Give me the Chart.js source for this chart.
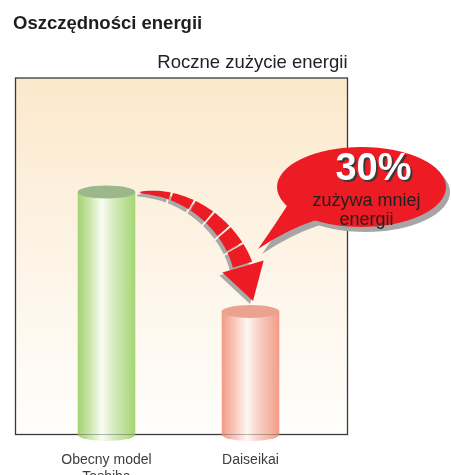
<!DOCTYPE html>
<html lang="pl">
<head>
<meta charset="UTF-8">
<title>Oszczędności energii</title>
<script src="https://cdn.jsdelivr.net/npm/chart.js@4.4.4/dist/chart.umd.min.js"></script>
<style>
  html, body { margin: 0; padding: 0; background: #fff; }
  #wrap { position: relative; width: 451px; height: 475px; }
</style>
</head>
<body>
<div id="wrap"><canvas id="chart"></canvas></div>
<script>
// Data. The value axis is hidden, so the
// heights are in plain units on a 0..100 scale spanning the framed area.
const CATEGORIES = [['Obecny model', 'Toshiba'], 'Daiseikai'];
const CONSUMPTION = [68, 34.5];
const Y_RANGE = [0, 100];

const TITLE = 'Oszczędności energii';
const SUBTITLE = 'Roczne zużycie energii';
const CALLOUT = ['30%', 'zużywa mniej', 'energii'];

const FONT = '"Liberation Sans", Arial, Helvetica, sans-serif';
const BAR_PCT = 0.4;
const CAP_RY = 6.5;

// Cylinder shading, left to right, and flat colour of the top cap.
const BAR_STYLES = [
  { stops: [[0, '#a4d272'], [0.2, '#c8e5a8'], [0.42, '#f9fcf3'], [0.62, '#d6ecc0'], [1, '#a5d574']], top: '#9cb88b' },
  { stops: [[0, '#f29b86'], [0.2, '#f8c2b4'], [0.44, '#fff7f3'], [0.64, '#f9d0c5'], [1, '#f29c87']], top: '#eca291' },
];

function barGradient(chart, index) {
  const xs = chart.scales.x;
  if (!xs || !chart.chartArea) return BAR_STYLES[index].stops[0][1];
  const cx = xs.getPixelForValue(index);
  const half = xs.width / CATEGORIES.length * BAR_PCT / 2;
  if (!isFinite(cx) || !isFinite(half) || half <= 0) return BAR_STYLES[index].stops[0][1];
  const g = chart.ctx.createLinearGradient(cx - half, 0, cx + half, 0);
  BAR_STYLES[index].stops.forEach(([o, c]) => g.addColorStop(o, c));
  return g;
}

// Frame + warm background behind the bars; it runs a bit wider than the
// category area on both sides, like the original artwork.
const frameBackground = {
  id: 'frameBackground',
  beforeDatasetsDraw(chart) {
    const { ctx, chartArea: a } = chart;
    const left = a.left - 19, right = a.right + 25;
    ctx.save();
    const g = ctx.createLinearGradient(0, a.top, 0, a.bottom);
    g.addColorStop(0, '#fce8cb');
    g.addColorStop(0.45, '#fdf3e4');
    g.addColorStop(1, '#fffefc');
    ctx.fillStyle = g;
    ctx.fillRect(left, a.top, right - left, a.bottom - a.top);
    ctx.strokeStyle = '#3a3a3a';
    ctx.lineWidth = 1.3;
    ctx.strokeRect(left, a.top, right - left, a.bottom - a.top);
    ctx.restore();
  },
};

function bezier(p, t) {
  const u = 1 - t;
  return {
    x: u * u * u * p[0].x + 3 * u * u * t * p[1].x + 3 * u * t * t * p[2].x + t * t * t * p[3].x,
    y: u * u * u * p[0].y + 3 * u * u * t * p[1].y + 3 * u * t * t * p[2].y + t * t * t * p[3].y,
  };
}

function bezierTangent(p, t) {
  const u = 1 - t;
  const dx = 3 * u * u * (p[1].x - p[0].x) + 6 * u * t * (p[2].x - p[1].x) + 3 * t * t * (p[3].x - p[2].x);
  const dy = 3 * u * u * (p[1].y - p[0].y) + 6 * u * t * (p[2].y - p[1].y) + 3 * t * t * (p[3].y - p[2].y);
  const len = Math.hypot(dx, dy) || 1;
  return { x: dx / len, y: dy / len };
}

function arrowShapes(p) {
  const dashes = [[0, 0.205], [0.22, 0.37], [0.385, 0.525], [0.54, 0.675], [0.69, 0.825], [0.84, 0.985]];
  const width = (t) => 1.5 + 19 * Math.pow(t, 0.75);
  const shapes = dashes.map(([t0, t1]) => {
    const left = [], right = [];
    for (let i = 0; i <= 12; i++) {
      const t = t0 + (t1 - t0) * i / 12;
      const pt = bezier(p, t), tg = bezierTangent(p, t), w = width(t) / 2;
      left.push({ x: pt.x + tg.y * w, y: pt.y - tg.x * w });
      right.push({ x: pt.x - tg.y * w, y: pt.y + tg.x * w });
    }
    return left.concat(right.reverse());
  });
  const base = bezier(p, 1), dir = bezierTangent(p, 1);
  shapes.push([
    { x: base.x + dir.y * 21.5, y: base.y - dir.x * 21.5 },
    { x: base.x + dir.x * 36, y: base.y + dir.y * 36 },
    { x: base.x - dir.y * 21.5, y: base.y + dir.x * 21.5 },
  ]);
  return shapes;
}

function fillPoly(ctx, pts, dx, dy) {
  ctx.beginPath();
  pts.forEach((q, i) => (i ? ctx.lineTo(q.x + dx, q.y + dy) : ctx.moveTo(q.x + dx, q.y + dy)));
  ctx.closePath();
  ctx.fill();
}

function fillBubble(ctx, dx, dy) {
  ctx.beginPath();
  ctx.ellipse(361.5 + dx, 187 + dy, 84.5, 40, 0, 0, Math.PI * 2);
  ctx.fill();
  ctx.beginPath();
  ctx.moveTo(292 + dx, 198 + dy);
  ctx.quadraticCurveTo(277 + dx, 222 + dy, 258 + dx, 249 + dy);
  ctx.quadraticCurveTo(286 + dx, 230 + dy, 316 + dx, 220 + dy);
  ctx.closePath();
  ctx.fill();
}

const cylinders = {
  id: 'cylinders',
  afterDatasetsDraw(chart) {
    const { ctx } = chart;
    const bars = chart.getDatasetMeta(0).data;
    ctx.save();
    bars.forEach((bar, i) => {
      const { x, y, base, width } = bar.getProps(['x', 'y', 'base', 'width'], true);
      ctx.fillStyle = barGradient(chart, i);
      ctx.beginPath();
      ctx.ellipse(x, base, width / 2, CAP_RY, 0, 0, Math.PI);
      ctx.fill();
      ctx.fillStyle = BAR_STYLES[i].top;
      ctx.beginPath();
      ctx.ellipse(x, y, width / 2, CAP_RY, 0, 0, Math.PI * 2);
      ctx.fill();
    });

    // dashed curved arrow from the first cylinder down to the second
    const a = bars[0].getProps(['x', 'y', 'width'], true);
    const b = bars[1].getProps(['x', 'y'], true);
    const p0 = { x: a.x + a.width / 2 + 5, y: a.y + 0.5 };
    const p3 = { x: b.x - 7.5, y: b.y - 45 };
    const pts = [p0, { x: p0.x + 50, y: p0.y - 2 }, { x: p3.x - 11, y: p3.y - 38 }, p3];
    const shapes = arrowShapes(pts);
    ctx.fillStyle = '#a9a9a9';
    shapes.forEach((s) => fillPoly(ctx, s, -3, 3));
    ctx.fillStyle = '#ed1c24';
    shapes.forEach((s) => fillPoly(ctx, s, 0, 0));

    // speech bubble
    ctx.fillStyle = '#a6a6a6';
    fillBubble(ctx, 4, 5);
    ctx.fillStyle = '#ed1c24';
    fillBubble(ctx, 0, 0);

    ctx.textAlign = 'center';
    ctx.textBaseline = 'middle';
    ctx.font = `bold 38px ${FONT}`;
    ctx.fillStyle = '#3a3a3a';
    ctx.fillText(CALLOUT[0], 375.5, 172);
    ctx.fillStyle = '#ffffff';
    ctx.fillText(CALLOUT[0], 373.5, 170);
    ctx.font = `18px ${FONT}`;
    ctx.fillStyle = '#231f20';
    ctx.fillText(CALLOUT[1], 366.5, 201);
    ctx.fillText(CALLOUT[2], 366.5, 220);
    ctx.restore();
  },
  afterDraw(chart) {
    const { ctx } = chart;
    ctx.save();
    ctx.textBaseline = 'alphabetic';
    ctx.fillStyle = '#1e1e1e';
    ctx.font = `bold 18.5px ${FONT}`;
    ctx.textAlign = 'left';
    ctx.fillText(TITLE, 13, 29);
    ctx.fillStyle = '#222222';
    ctx.font = `18.5px ${FONT}`;
    ctx.textAlign = 'right';
    ctx.fillText(SUBTITLE, 347.5, 68);
    ctx.restore();
  },
};

new Chart(document.getElementById('chart'), {
  type: 'bar',
  data: {
    labels: CATEGORIES,
    datasets: [{
      data: CONSUMPTION,
      backgroundColor: (c) => barGradient(c.chart, c.dataIndex),
      borderWidth: 0,
      barPercentage: BAR_PCT,
      categoryPercentage: 1,
    }],
  },
  options: {
    responsive: true,
    maintainAspectRatio: false,
    animation: false,
    devicePixelRatio: 1,
    layout: { padding: { left: 34.5, right: 128.5, top: 78, bottom: 0 } },
    plugins: { legend: { display: false }, tooltip: { enabled: false }, title: { display: false } },
    scales: {
      x: {
        grid: { display: false, drawTicks: false },
        border: { display: false },
        ticks: { color: '#3d3d3d', font: { family: FONT, size: 14 }, padding: 17, maxRotation: 0 },
        afterFit: (scale) => { scale.height = 40.5; },
      },
      y: { display: false, min: Y_RANGE[0], max: Y_RANGE[1] },
    },
  },
  plugins: [frameBackground, cylinders],
});
</script>
</body>
</html>
